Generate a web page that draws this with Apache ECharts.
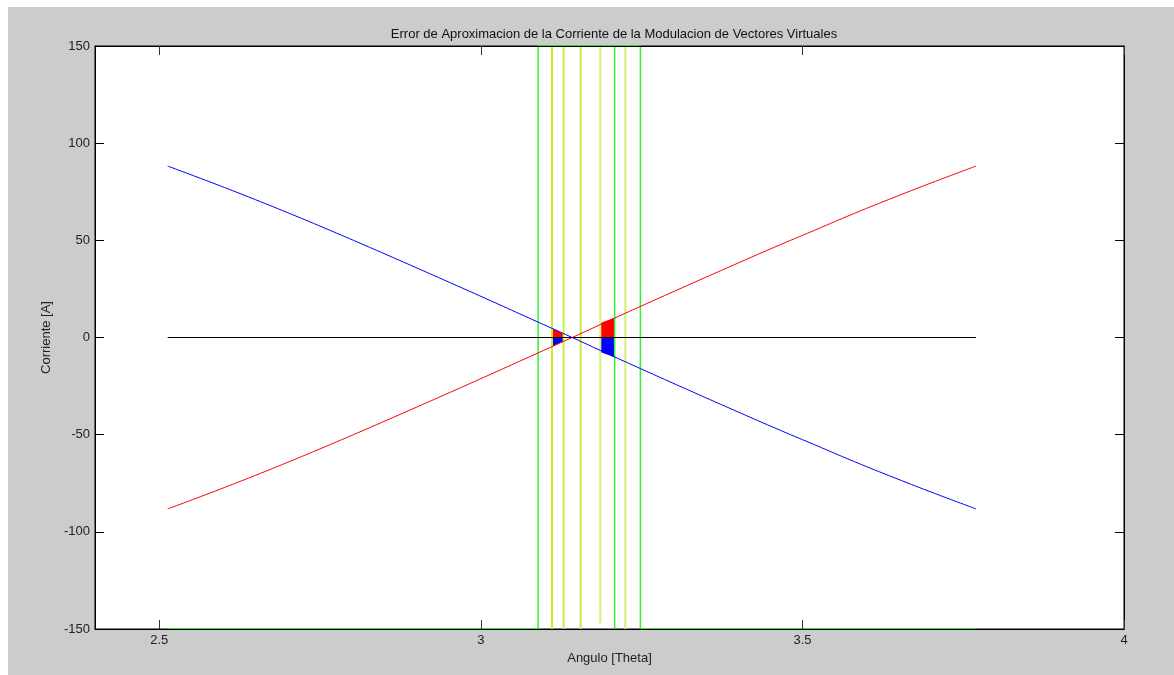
<!DOCTYPE html>
<html>
<head>
<meta charset="utf-8">
<script src="https://cdn.jsdelivr.net/npm/echarts@6/dist/echarts.min.js"></script>
<style>
html,body{margin:0;padding:0;background:#ffffff;width:1174px;height:675px;overflow:hidden;}
#chart{position:absolute;left:8px;top:7px;width:1166px;height:668px;background:#cccccc;}
</style>
</head>
<body>
<div id="chart"></div>
<script>
// Angle samples (rad)
const theta = [2.513,2.576,2.639,2.702,2.765,2.827,2.890,2.953,3.016,3.079,3.142,3.204,3.267,3.330,3.393,3.456,3.519,3.581,3.644,3.707,3.770];
// Current curves [A]
const redCurrent  = [-88.2,-80.4,-72.3,-63.9,-55.2,-46.4,-37.3,-28.1,-18.8,-9.4,0,9.4,18.8,28.1,37.3,46.4,55.2,63.9,72.3,80.4,88.2];
const blueCurrent = [88.2,80.4,72.3,63.9,55.2,46.4,37.3,28.1,18.8,9.4,0,-9.4,-18.8,-28.1,-37.3,-46.4,-55.2,-63.9,-72.3,-80.4,-88.2];
// Green pulse window
const pulseX = [2.513,3.089,3.089,3.248,3.248,3.770];
const pulseY = [-150,-150,150,150,-150,-150];
// Extra green vertical line
const greenLineX = [3.208];
// Yellow vertical lines
const yellowX = [3.1106,3.1287,3.1551,3.1857,3.2245];
const yellowBottom = [-150,-150,-150,-147,-150];
// Error fill regions
const fill1X = [3.1106,3.1287];
const fill1Pos = [4.6,1.9];
const fill1Neg = [-4.6,-1.9];
const fill2X = [3.1857,3.2079];
const fill2Pos = [7.4,10.2];
const fill2Neg = [-7.4,-10.2];
// Ticks
const xTicks = [2.5,3,3.5,4];
const yTicks = [-150,-100,-50,0,50,100,150];

const yellowColors = ['#c3ee2c','#c9ef4a','#c4ea48','#d6f17c','#d4f07c'];
const FONT = '"Liberation Sans", Arial, sans-serif';
const pair = (xs, ys) => xs.map((x,i)=>[x, ys[i]]);

const chart = echarts.init(document.getElementById('chart'), null, {renderer:'canvas'});
const series = [];
series.push({type:'line', data:pair(pulseX,pulseY), showSymbol:false, lineStyle:{color:'#33f033', width:1.5}, clip:false, z:3, animation:false});
series.push({type:'line', data:[[greenLineX[0],-150],[greenLineX[0],150]], showSymbol:false, lineStyle:{color:'#33f033', width:1.5}, clip:false, z:3, animation:false});
yellowX.forEach((x,i)=>{
  series.push({type:'line', data:[[x,yellowBottom[i]],[x,150]], showSymbol:false, lineStyle:{color:yellowColors[i], width:2}, z:3, animation:false});
});
[[fill1X,fill1Pos,'#ff0000'],[fill1X,fill1Neg,'#0000ff'],[fill2X,fill2Pos,'#ff0000'],[fill2X,fill2Neg,'#0000ff']].forEach(f=>{
  series.push({type:'line', data:pair(f[0],f[1]), showSymbol:false, lineStyle:{width:0, color:f[2]}, areaStyle:{color:f[2], opacity:1}, z:2, animation:false});
});
series.push({type:'line', data:[[theta[0],0],[theta[theta.length-1],0]], showSymbol:false, lineStyle:{color:'#000000', width:1}, z:4, animation:false});
series.push({type:'line', data:pair(theta,redCurrent), smooth:true, showSymbol:false, lineStyle:{color:'#ff0000', width:1}, z:5, animation:false});
series.push({type:'line', data:pair(theta,blueCurrent), smooth:true, showSymbol:false, lineStyle:{color:'#0000ff', width:1}, z:5, animation:false});

const axisTxt = {color:'#222222', fontFamily:FONT, fontSize:13};
chart.setOption({
  animation:false,
  backgroundColor:'#cccccc',
  title:{text:'Error de Aproximacion de la Corriente de la Modulacion de Vectores Virtuales', left:601, textAlign:'center', top:16,
    textStyle:{color:'#111111', fontFamily:FONT, fontSize:13, fontWeight:'normal'}},
  grid:{left:87, right:50, top:39, bottom:46, show:true, backgroundColor:'#ffffff', borderColor:'#000000', borderWidth:1},
  xAxis:[
    {type:'value', min:2.4, max:4, position:'bottom', z:10,
     name:'Angulo [Theta]', nameLocation:'middle', nameGap:23, nameTextStyle:axisTxt,
     axisLine:{show:true, onZero:false, lineStyle:{color:'#000000'}},
     axisTick:{show:true, inside:true, length:9, customValues:xTicks, lineStyle:{color:'#333333', width:1}},
     axisLabel:{customValues:xTicks, margin:5, ...axisTxt, formatter:v=>String(v)},
     splitLine:{show:false}},
    {type:'value', min:2.4, max:4, position:'top', z:10,
     axisLine:{show:true, onZero:false, lineStyle:{color:'#000000'}},
     axisTick:{show:true, inside:true, length:9, customValues:xTicks, lineStyle:{color:'#333333', width:1}},
     axisLabel:{show:false}, splitLine:{show:false}}
  ],
  yAxis:[
    {type:'value', min:-150, max:150, interval:50, position:'left', z:10,
     name:'Corriente [A]', nameLocation:'middle', nameGap:41, nameTextStyle:axisTxt,
     axisLine:{show:true, onZero:false, lineStyle:{color:'#000000'}},
     axisTick:{show:true, inside:true, length:9, lineStyle:{color:'#000000'}},
     axisLabel:{margin:5, ...axisTxt}, splitLine:{show:false}},
    {type:'value', min:-150, max:150, interval:50, position:'right', z:10,
     axisLine:{show:true, onZero:false, lineStyle:{color:'#000000'}},
     axisTick:{show:true, inside:true, length:9, lineStyle:{color:'#000000'}},
     axisLabel:{show:false}, splitLine:{show:false}}
  ],
  series: series
});
</script>
</body>
</html>
